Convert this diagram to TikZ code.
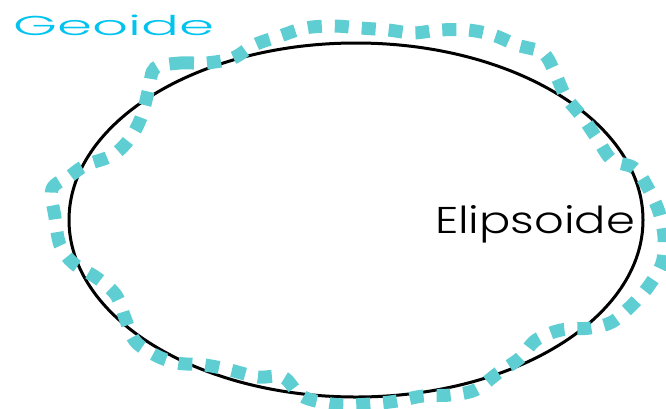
\documentclass[tikz,border=0pt]{standalone}
\usepackage{fontspec}
\newfontfamily\geofont{Poppins Light}
\usepackage{graphicx}
\definecolor{geoteal}{RGB}{95,206,211}
\definecolor{geocyan}{RGB}{0,195,240}
\tikzset{
  geoidline/.style={draw=geoteal, line width=13pt, dash pattern=on 14pt off 13pt},
  ellipseline/.style={draw=black, line width=3pt},
  lbl/.style={anchor=base west, inner sep=0pt, outer sep=0pt}
}
\begin{document}
\begin{tikzpicture}[x=1pt,y=-1pt]
\useasboundingbox (0,0) rectangle (666,408);
\draw[ellipseline] (356,220) ellipse [x radius=287, y radius=177];
\draw[geoidline] plot[smooth cycle, tension=0.55] coordinates {
(155,68) (180,63) (206,63) (233,58) (254,45) (280,36) (305,28) (333,26)
(360,28) (388,30) (413,33) (440,30) (468,30) (493,35) (517,45) (543,53)
(555,73) (566,97) (583,118) (598,140) (612,160) (634,168) (648,188)
(659,212) (664,237) (662,263) (648,287) (632,305) (612,322) (590,328)
(561,330) (536,340) (520,358) (498,373) (475,390) (450,395) (423,396)
(397,401) (370,404) (343,405) (320,402) (300,395) (283,377) (258,377)
(230,370) (205,365) (177,363) (155,355) (135,341) (125,318) (116,295)
(97,278) (73,263) (60,245) (55,217) (52,189) (70,176) (86,165) (113,155)
(131,137) (142,115) (149,88)};
\node[lbl, text=geocyan] (geoide) at (13,35) {\resizebox{201pt}{20.5pt}{\geofont Geoide}};
\node[lbl, text=black] (elipsoide) at (435,233) {\resizebox{200pt}{28pt}{\geofont Elipsoide}};
\end{tikzpicture}
\end{document}
